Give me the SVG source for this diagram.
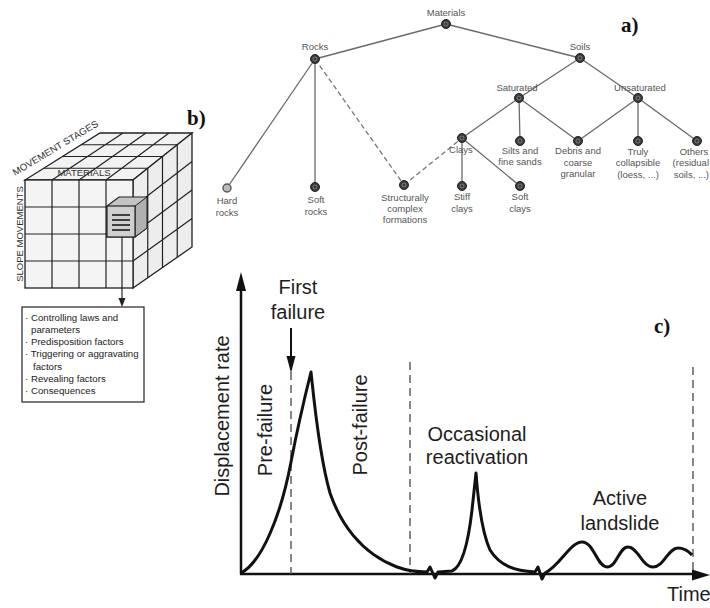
<svg xmlns="http://www.w3.org/2000/svg" width="710" height="608" viewBox="0 0 710 608">
<defs>
<style>
.tl{font-family:"Liberation Sans",Arial,sans-serif;font-size:9.5px;fill:#555;text-anchor:middle}
.tle{font-family:"Liberation Sans",Arial,sans-serif;font-size:9.5px;fill:#555;text-anchor:end}
.edge{stroke:#6a6a6a;stroke-width:1.3;fill:none}
.dash{stroke:#777;stroke-width:1.3;fill:none;stroke-dasharray:5 3}
.nd{fill:#3a3a3a;stroke:#222;stroke-width:1}
.ndi{fill:none;stroke:#8a8a8a;stroke-width:0.8}
.lab{font-family:"Liberation Serif","Times New Roman",serif;font-weight:bold;font-size:21px;fill:#111}
.cl{stroke:#222;stroke-width:1.2;fill:none}
.ct{font-family:"Liberation Sans",Arial,sans-serif;font-size:9.5px;fill:#333}
.bt{font-family:"Liberation Sans",Arial,sans-serif;font-size:9.7px;fill:#222}
.gt{font-family:"Liberation Sans",Arial,sans-serif;font-size:20px;fill:#1e1e1e}
.ax{stroke:#111;stroke-width:2.5;fill:none}
.vd{stroke:#555;stroke-width:1.4;fill:none;stroke-dasharray:8 5}
.cv{stroke:#111;stroke-width:3;fill:none;stroke-linejoin:round}
</style>
</defs>
<rect width="710" height="608" fill="#fff"/>

<!-- a) tree -->
<g id="connectors">
<line class="edge" x1="446" y1="24" x2="315" y2="59"/>
<line class="edge" x1="446" y1="24" x2="580" y2="58"/>
<line class="edge" x1="315" y1="59" x2="227" y2="188"/>
<line class="edge" x1="315" y1="59" x2="315" y2="187"/>
<line class="dash" x1="315" y1="59" x2="404" y2="185"/>
<line class="dash" x1="404" y1="185" x2="462" y2="138"/>
<line class="edge" x1="580" y1="58" x2="519" y2="98"/>
<line class="edge" x1="580" y1="58" x2="638" y2="98"/>
<line class="edge" x1="519" y1="98" x2="462" y2="138"/>
<line class="edge" x1="519" y1="98" x2="520" y2="141"/>
<line class="edge" x1="519" y1="98" x2="578" y2="141"/>
<line class="edge" x1="638" y1="98" x2="578" y2="141"/>
<line class="edge" x1="638" y1="98" x2="638" y2="141"/>
<line class="edge" x1="638" y1="98" x2="697" y2="141"/>
<line class="edge" x1="462" y1="138" x2="462" y2="186"/>
<line class="edge" x1="462" y1="138" x2="520" y2="186"/>
</g>

<g id="materials"><circle class="nd" cx="446" cy="24" r="4.5"/><circle class="ndi" cx="446" cy="24" r="2"/><text class="tl" x="446" y="16">Materials</text></g>
<g id="rocks"><circle class="nd" cx="315" cy="59" r="4.5"/><circle class="ndi" cx="315" cy="59" r="2"/><text class="tl" x="315" y="50">Rocks</text></g>
<g id="soils"><circle class="nd" cx="580" cy="58" r="4.5"/><circle class="ndi" cx="580" cy="58" r="2"/><text class="tl" x="580" y="50">Soils</text></g>
<g id="saturated"><circle class="nd" cx="519" cy="98" r="4.5"/><circle class="ndi" cx="519" cy="98" r="2"/><text class="tl" x="517" y="91">Saturated</text></g>
<g id="unsaturated"><circle class="nd" cx="638" cy="98" r="4.5"/><circle class="ndi" cx="638" cy="98" r="2"/><text class="tl" x="640" y="91">Unsaturated</text></g>
<g id="hard-rocks"><circle cx="227" cy="188" r="4" fill="#bbb" stroke="#555" stroke-width="1.4"/><text class="tl" x="227" y="204">Hard</text><text class="tl" x="227" y="216">rocks</text></g>
<g id="soft-rocks"><circle class="nd" cx="315" cy="187" r="4.5"/><circle class="ndi" cx="315" cy="187" r="2"/><text class="tl" x="316" y="203">Soft</text><text class="tl" x="316" y="215">rocks</text></g>
<g id="structurally"><circle class="nd" cx="404" cy="185" r="4.5"/><circle class="ndi" cx="404" cy="185" r="2"/><text class="tl" x="405" y="201">Structurally</text><text class="tl" x="405" y="212">complex</text><text class="tl" x="405" y="223">formations</text></g>
<g id="clays"><circle class="nd" cx="462" cy="138" r="4.5"/><circle class="ndi" cx="462" cy="138" r="2"/><text class="tl" x="461" y="153">Clays</text></g>
<g id="silts"><circle class="nd" cx="520" cy="141" r="4.5"/><circle class="ndi" cx="520" cy="141" r="2"/><text class="tl" x="520" y="154">Silts and</text><text class="tl" x="520" y="165">fine sands</text></g>
<g id="debris"><circle class="nd" cx="578" cy="141" r="4.5"/><circle class="ndi" cx="578" cy="141" r="2"/><text class="tl" x="578" y="154">Debris and</text><text class="tl" x="578" y="166">coarse</text><text class="tl" x="578" y="177">granular</text></g>
<g id="truly"><circle class="nd" cx="638" cy="141" r="4.5"/><circle class="ndi" cx="638" cy="141" r="2"/><text class="tl" x="638" y="155">Truly</text><text class="tl" x="638" y="166">collapsible</text><text class="tl" x="638" y="178">(loess, ...)</text></g>
<g id="others"><circle class="nd" cx="697" cy="141" r="4.5"/><circle class="ndi" cx="697" cy="141" r="2"/><text class="tl" x="694" y="155">Others</text><text class="tle" x="709" y="166">(residual</text><text class="tle" x="709" y="178">soils, ...)</text></g>
<g id="stiff-clays"><circle class="nd" cx="462" cy="186" r="4.5"/><circle class="ndi" cx="462" cy="186" r="2"/><text class="tl" x="462" y="200">Stiff</text><text class="tl" x="462" y="212">clays</text></g>
<g id="soft-clays"><circle class="nd" cx="520" cy="186" r="4.5"/><circle class="ndi" cx="520" cy="186" r="2"/><text class="tl" x="520" y="200">Soft</text><text class="tl" x="520" y="212">clays</text></g>
<text class="lab" x="621" y="32">a)</text>

<!-- b) cube -->
<g id="cube">
<polygon points="25,180 133,180 192,133 100,133" fill="#f2f2f2" stroke="#222" stroke-width="1.3"/>
<polygon points="133,180 192,133 192,247 133,288" fill="#ededed" stroke="#222" stroke-width="1.3"/>
<rect x="25" y="180" width="108" height="108" fill="#f4f4f4" stroke="#222" stroke-width="1.3"/>
<path class="cl" d="M52,180L123,133M79,180L146,133M106,180L169,133M43.75,168.25H147.75M62.5,156.5H162.5M81.25,144.75H177.25"/>
<path class="cl" d="M147.75,168.25V277.75M162.5,156.5V267.5M177.25,144.75V257.25M133,207L192,161.5M133,234L192,190M133,261L192,218.5"/>
<path class="cl" d="M52,180V288M79,180V288M106,180V288M25,207H133M25,234H133M25,261H133"/>
<polygon points="107,206 119,197 147,197 147,228 135,237 107,237" fill="#c4c4c4" stroke="#222" stroke-width="1.2"/>
<polygon points="135,206 147,197 147,228 135,237" fill="#b0b0b0" stroke="#222" stroke-width="1"/>
<rect x="107" y="206" width="28" height="31" fill="#cfcfcf" stroke="#222" stroke-width="1.2"/>
<path d="M112,215H130M112,220H130M112,225H130M112,230H130" stroke="#111" stroke-width="1.6"/>
<text class="ct" x="84" y="176" text-anchor="middle">MATERIALS</text>
<text class="ct" transform="translate(15,176) rotate(-31)" textLength="98" lengthAdjust="spacingAndGlyphs">MOVEMENT STAGES</text>
<text class="ct" transform="translate(23,234) rotate(-90)" text-anchor="middle">SLOPE MOVEMENTS</text>
</g>
<g id="cube-arrow">
<line x1="122" y1="237" x2="122" y2="300" stroke="#222" stroke-width="1.2"/>
<polygon points="122,307 118.5,298 125.5,298" fill="#222"/>
</g>
<g id="factors-box">
<rect x="22" y="307" width="122" height="95" fill="#fff" stroke="#222" stroke-width="1.2"/>
<text class="bt" x="25" y="321">· Controlling laws and</text>
<text class="bt" x="31" y="333">parameters</text>
<text class="bt" x="25" y="345">· Predisposition factors</text>
<text class="bt" x="25" y="357">· Triggering or aggravating</text>
<text class="bt" x="33" y="370">factors</text>
<text class="bt" x="25" y="382">· Revealing factors</text>
<text class="bt" x="25" y="394">· Consequences</text>
</g>
<text class="lab" x="187" y="125">b)</text>

<!-- c) chart -->
<g id="chart">
<line class="ax" x1="241" y1="574" x2="241" y2="286"/>
<polygon points="241,272 236,291 246,291" fill="#111"/>
<line class="ax" x1="240" y1="574" x2="696" y2="574"/>
<polygon points="710,575 692,569.5 692,580.5" fill="#111"/>
<line class="vd" x1="291" y1="372" x2="291" y2="574"/>
<line class="vd" x1="410" y1="362" x2="410" y2="574"/>
<line class="vd" x1="693" y1="367" x2="693" y2="574"/>
<line x1="291" y1="328" x2="291" y2="360" stroke="#111" stroke-width="2"/>
<polygon points="291,373 286.5,356 295.5,356" fill="#111"/>
<path class="cv" d="M241,573 C262,562 281,515 291,462 C299,420 306,392 311,372 C314,400 319,455 330,493 C340,522 360,553 397,567 C408,571 418,572 427,572 L430,567 L435,578 L438,572 L452,571 C462,567 468,545 472,510 L476,473 C478,500 481,530 490,550 C500,566 515,571 535,572 L538,567 L542,579 L545,573 C560,566 570,542 582,542 C594,542 597,567 607,567 C617,567 619,547 628,547 C638,547 642,567 653,567 C664,567 668,548 678,548 C686,548 690,553 692,555"/>
<text class="gt" x="298" y="294" text-anchor="middle">First</text>
<text class="gt" x="298" y="319" text-anchor="middle">failure</text>
<text class="gt" transform="translate(229,416) rotate(-90)" text-anchor="middle">Displacement rate</text>
<text class="gt" transform="translate(272,430) rotate(-90)" text-anchor="middle">Pre-failure</text>
<text class="gt" transform="translate(367,425) rotate(-90)" text-anchor="middle">Post-failure</text>
<text class="gt" x="477" y="441" text-anchor="middle">Occasional</text>
<text class="gt" x="477" y="464" text-anchor="middle">reactivation</text>
<text class="gt" x="620" y="505" text-anchor="middle">Active</text>
<text class="gt" x="620" y="530" text-anchor="middle">landslide</text>
<text class="gt" x="667" y="601">Time</text>
</g>
<text class="lab" x="654" y="333">c)</text>
</svg>
